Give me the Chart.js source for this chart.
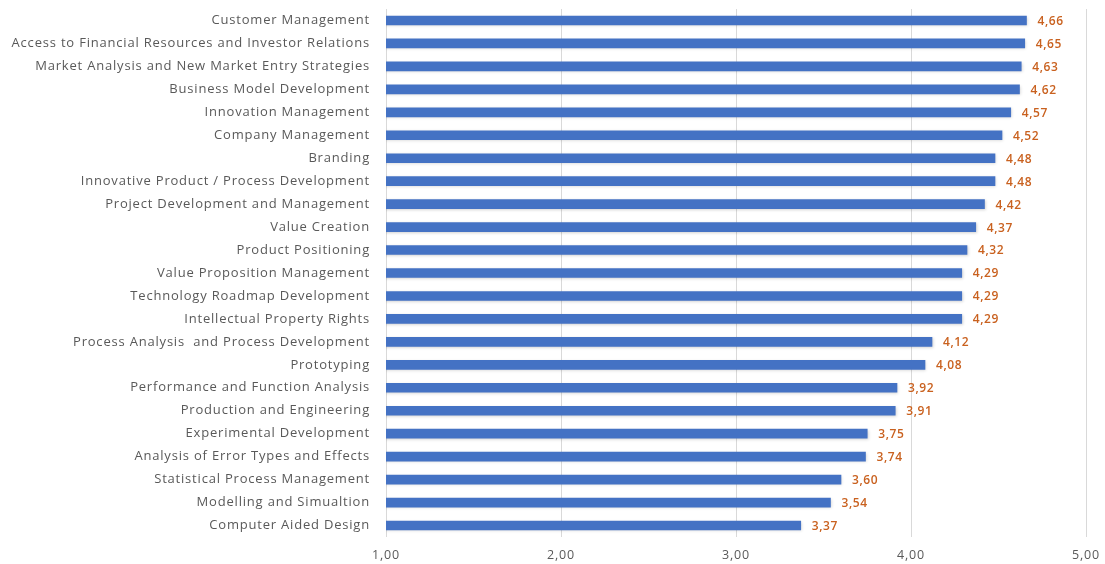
<!DOCTYPE html>
<html><head><meta charset="utf-8">
<script src="https://cdn.jsdelivr.net/npm/chart.js@4/dist/chart.umd.min.js"></script>
<style>html,body{margin:0;padding:0;background:#fff}#wrap{width:1105px;height:564px;position:relative}</style>
</head><body><div id="wrap"><canvas id="c"></canvas></div>
<script>
const categories = ["Customer Management","Access to Financial Resources and Investor Relations","Market Analysis and New Market Entry Strategies","Business Model Development","Innovation Management","Company Management","Branding","Innovative Product / Process Development","Project Development and Management","Value Creation","Product Positioning","Value Proposition Management","Technology Roadmap Development","Intellectual Property Rights","Process Analysis  and Process Development","Prototyping","Performance and Function Analysis","Production and Engineering","Experimental Development","Analysis of Error Types and Effects","Statistical Process Management","Modelling and Simualtion","Computer Aided Design"];
const values = [4.66,4.65,4.63,4.62,4.57,4.52,4.48,4.48,4.42,4.37,4.32,4.29,4.29,4.29,4.12,4.08,3.92,3.91,3.75,3.74,3.60,3.54,3.37];
const xTicks = [1,2,3,4,5];
const fmt = v => v.toFixed(2).replace('.', ',');

const spacingPlugin = {
  id:'spacing',
  beforeDraw(chart){ chart.ctx.letterSpacing = '0.8px'; },
  beforeDatasetsDraw(chart){
    const ctx = chart.ctx; ctx.save();
    ctx.shadowColor = 'rgba(0,0,0,0.18)'; ctx.shadowBlur = 3; ctx.shadowOffsetX = 1; ctx.shadowOffsetY = 1;
  },
  afterDatasetsDraw(chart){ chart.ctx.restore(); }
};
const labelPlugin = {
  id:'vlabels',
  afterDatasetsDraw(chart){
    const ctx = chart.ctx;
    const meta = chart.getDatasetMeta(0);
    ctx.save();
    ctx.letterSpacing = '0.6px';
    ctx.font = '600 12px "Open Sans"';
    ctx.fillStyle = '#C9611F';
    ctx.textBaseline = 'middle';
    ctx.textAlign = 'left';
    meta.data.forEach((bar,i)=>{
      ctx.fillText(fmt(values[i]), bar.x + 11, bar.y + 1);
    });
    ctx.restore();
  }
};

new Chart(document.getElementById('c'), {
  type:'bar',
  data:{labels:categories, datasets:[{data:values, backgroundColor:'#4472C4', barThickness:9, borderWidth:0}]},
  options:{
    indexAxis:'y', responsive:true, maintainAspectRatio:false, animation:false,
    layout:{padding:{top:9, right:19, bottom:0, left:0}},
    plugins:{legend:{display:false}, tooltip:{enabled:false}},
    scales:{
      x:{min:1,max:5,
        afterBuildTicks(s){s.ticks = xTicks.map(v=>({value:v}));},
        grid:{color:'#D9D9D9', drawTicks:false, lineWidth:1},
        border:{display:false},
        ticks:{padding:11, color:'#595959', font:{family:'Open Sans', size:12.5}, callback:v=>fmt(v)},
        afterFit(s){s.height = 27; s.paddingLeft = 0; s.paddingRight = 0;}
      },
      y:{
        grid:{display:false, drawTicks:false}, border:{display:false},
        ticks:{padding:16, color:'#595959', font:{family:'Open Sans', size:13}, autoSkip:false},
        afterFit(s){s.width = 386; s.paddingTop = 0; s.paddingBottom = 0;}
      }
    }
  },
  plugins:[spacingPlugin, labelPlugin]
});
</script></body></html>
